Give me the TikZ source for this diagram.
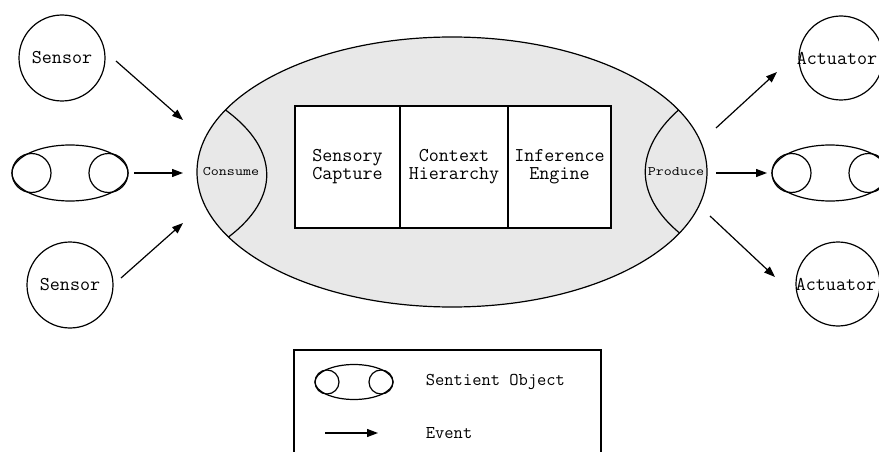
\documentclass[tikz,border=0pt]{standalone}
\usepackage{fontspec}
\usepackage{graphicx}
\usetikzlibrary{arrows.meta,shapes.geometric}
\newcommand\sentobj[6]{%
  \node[oval, minimum width=2*#4pt, minimum height=2*#5pt] (#1) at (#2,#3) {};
  \node[ring, minimum size=2*#6pt] (#1l) at (#2-#4+#6,#3) {};
  \node[ring, minimum size=2*#6pt] (#1r) at (#2+#4-#6,#3) {};
}
\newcommand\heavytt{\ttfamily\addfontfeature{FakeBold=0.6}}
\begin{document}
\begin{tikzpicture}[x=1pt,y=-1pt,line width=1.2pt,
  ev/.style={-{Triangle[length=11pt,width=8pt]},line width=1.2pt},
  oval/.style={draw,ellipse,inner sep=0pt},
  ring/.style={draw,circle,inner sep=0pt},
  lbl/.style={font=\fontsize{19.5}{18}\selectfont\heavytt,align=center},
  cell/.style={draw,fill=white,rectangle,minimum height=122pt,inner sep=0pt,font=\fontsize{19.5}{18}\selectfont\heavytt,align=center},
  small/.style={font=\fontsize{13}{13}\selectfont\heavytt},
  legtext/.style={font=\fontsize{18}{18}\selectfont\heavytt,anchor=west}]
\useasboundingbox (0,0) rectangle (879,452);
% central sentient object
\node[oval,fill=gray!18,minimum width=510pt,minimum height=270pt] (agent) at (452,172) {};
\coordinate (cta) at (225.5,110);
\coordinate (ctb) at (228.5,237);
\coordinate (pra) at (678.5,110);
\coordinate (prb) at (679.5,233);
\draw (cta) .. controls (280,150) and (280,198) .. (ctb);
\draw (pra) .. controls (634,150) and (634,195) .. (prb);
\node[small] (consume) at (231,172) {\scalebox{1.2}[1]{Consume}};
\node[small] (produce) at (676,172) {\scalebox{1.2}[1]{Produce}};
\node[cell,minimum width=105pt] (cap) at (347.5,167) {Sensory\\Capture};
\node[cell,minimum width=108pt] (hier) at (454,167) {Context\\Hierarchy};
\node[cell,minimum width=103pt] (inf) at (559.5,167) {Inference\\Engine};
% left side
\node[ring,minimum size=86pt,lbl] (sen1) at (62,58) {Sensor};
\node[ring,minimum size=86pt,lbl] (sen2) at (70,285) {Sensor};
\sentobj{soL}{70}{173}{58}{28}{19.5}
% right side
\node[ring,minimum size=84pt] (act1) at (841,58) {};
\node[lbl] (act1t) at (837,58) {Actuator};
\node[ring,minimum size=84pt] (act2) at (838,284) {};
\node[lbl] (act2t) at (836,284) {Actuator};
\sentobj{soR}{830}{173}{58}{28}{19.5}
% arrows
\coordinate (a1s) at (116,61);  \coordinate (a1e) at (183,120);
\coordinate (a2s) at (134,173); \coordinate (a2e) at (183,173);
\coordinate (a3s) at (121,278); \coordinate (a3e) at (183,223);
\coordinate (b1s) at (716,128); \coordinate (b1e) at (777,72);
\coordinate (b2s) at (716,173); \coordinate (b2e) at (767,173);
\coordinate (b3s) at (710,216); \coordinate (b3e) at (775,277);
\draw[ev] (a1s) -- (a1e);
\draw[ev] (a2s) -- (a2e);
\draw[ev] (a3s) -- (a3e);
\draw[ev] (b1s) -- (b1e);
\draw[ev] (b2s) -- (b2e);
\draw[ev] (b3s) -- (b3e);
% legend
\draw (294,460) -- (294,350) -- (601,350) -- (601,460);
\sentobj{soLeg}{354}{382}{39}{17.5}{12}
\node[legtext] (legso) at (422,382) {Sentient Object};
\coordinate (evs) at (325,433); \coordinate (eve) at (378,433);
\draw[ev] (evs) -- (eve);
\node[legtext] (legev) at (422,433) {Event};
\end{tikzpicture}
\end{document}
